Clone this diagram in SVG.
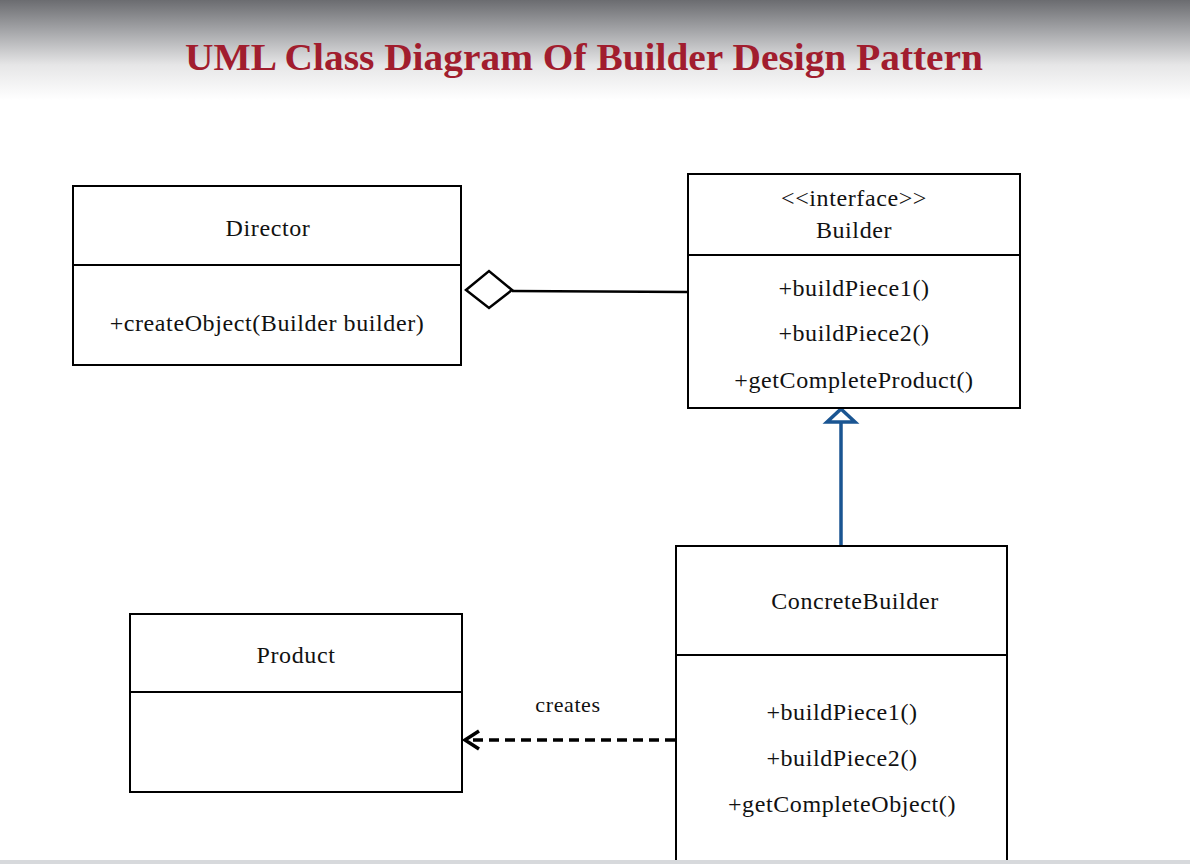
<svg xmlns="http://www.w3.org/2000/svg" width="1190" height="864" viewBox="0 0 1190 864">
<defs>
<linearGradient id="topg" x1="0" y1="0" x2="0" y2="1">
<stop offset="0" stop-color="#6b6c70"/>
<stop offset="0.3" stop-color="#a3a4a7"/>
<stop offset="0.65" stop-color="#e6e6e7"/>
<stop offset="1" stop-color="#ffffff"/>
</linearGradient>
<style>
.box{fill:#fff;stroke:#000;stroke-width:2}
.t{font-family:"Liberation Serif","DejaVu Serif",serif;font-size:24px;letter-spacing:0.6px;fill:#111;text-anchor:middle}
.title{font-family:"Liberation Serif","DejaVu Serif",serif;font-size:37px;font-weight:bold;fill:#a11d2e;text-anchor:middle}
</style>
</defs>
<rect x="0" y="0" width="1190" height="864" fill="#fff"/>
<rect x="0" y="0" width="1190" height="100" fill="url(#topg)"/>
<text class="title" x="584" y="70" textLength="798" lengthAdjust="spacingAndGlyphs">UML Class Diagram Of Builder Design Pattern</text>

<g id="connectors">
<line x1="512" y1="291" x2="688" y2="292" stroke="#000" stroke-width="2.5"/>
<polygon points="466,290 489,271 512,290 489,308" fill="#fff" stroke="#000" stroke-width="2.5"/>
<line x1="841" y1="545" x2="841" y2="422" stroke="#1a5592" stroke-width="3.5"/>
<polygon points="841,409 855,422 827,422" fill="#fff" stroke="#1a5592" stroke-width="3.5" stroke-linejoin="miter"/>
<line x1="675" y1="740" x2="466" y2="740" stroke="#000" stroke-width="3.5" stroke-dasharray="10,6"/>
<polyline points="479,731 465,740 479,749" fill="none" stroke="#000" stroke-width="3.5"/>
<text class="t" x="568" y="712" style="font-size:22px">creates</text>
</g>

<g id="director">
<rect class="box" x="73" y="186" width="388" height="179"/>
<line x1="73" y1="265" x2="461" y2="265" stroke="#000" stroke-width="2"/>
<text class="t" x="268" y="236">Director</text>
<text class="t" x="267" y="331">+createObject(Builder builder)</text>
</g>

<g id="builder">
<rect class="box" x="688" y="174" width="332" height="234"/>
<line x1="688" y1="255" x2="1020" y2="255" stroke="#000" stroke-width="2"/>
<text class="t" x="854" y="206">&lt;&lt;interface&gt;&gt;</text>
<text class="t" x="854" y="238">Builder</text>
<text class="t" x="854" y="296">+buildPiece1()</text>
<text class="t" x="854" y="341">+buildPiece2()</text>
<text class="t" x="854" y="388">+getCompleteProduct()</text>
</g>

<g id="concretebuilder">
<rect class="box" x="676" y="546" width="331" height="330"/>
<line x1="676" y1="655" x2="1007" y2="655" stroke="#000" stroke-width="2"/>
<text class="t" x="855" y="609">ConcreteBuilder</text>
<text class="t" x="842" y="720">+buildPiece1()</text>
<text class="t" x="842" y="766">+buildPiece2()</text>
<text class="t" x="842" y="812">+getCompleteObject()</text>
</g>

<g id="product">
<rect class="box" x="130" y="614" width="332" height="178"/>
<line x1="130" y1="692" x2="462" y2="692" stroke="#000" stroke-width="2"/>
<text class="t" x="296" y="663">Product</text>
</g>

<rect x="0" y="860" width="1190" height="4" fill="#d7d9dc"/>
</svg>
